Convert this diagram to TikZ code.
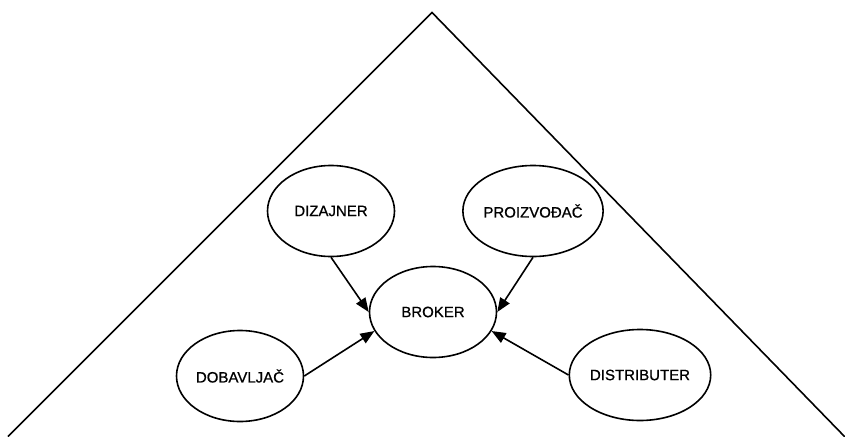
\documentclass[tikz,border=0pt]{standalone}
\usepackage{fontspec}
\setmainfont{Liberation Sans}
\newfontfamily\labelfont{Liberation Sans}[FakeBold=0.8]
\usetikzlibrary{shapes.geometric,arrows.meta}
\begin{document}
\begin{tikzpicture}[x=1pt,y=-1pt,
  role/.style={draw,ellipse,line width=1.6pt,minimum width=127pt,minimum height=91pt,
    inner sep=0pt,font=\labelfont\fontsize{15pt}{17pt}\selectfont},
  link/.style={line width=1.6pt,-{Triangle[length=14pt,width=11pt]}}]
\useasboundingbox (0,0) rectangle (845,436);
% outer triangle
\coordinate (apex) at (432,12.5);
\coordinate (left) at (8,436.5);
\coordinate (right) at (845,437);
\draw[line width=1.6pt] (left) -- (apex) -- (right);
% roles
\node[role] (diz) at (331,211) {DIZAJNER};
\node[role] (pro) at (533,211) {PROIZVOĐAČ};
\node[role] (bro) at (433,312) {BROKER};
\node[role] (dob) at (240,376) {DOBAVLJAČ};
\node[role] (dis) at (640,375) {DISTRIBUTER};
% flows into the broker
\draw[link] (diz.south) -- (bro.west);
\draw[link] (pro.south) -- (bro.east);
\draw[link] (dob.east) -- (bro.198);
\draw[link] (dis.west) -- (bro.-18);
\end{tikzpicture}
\end{document}
